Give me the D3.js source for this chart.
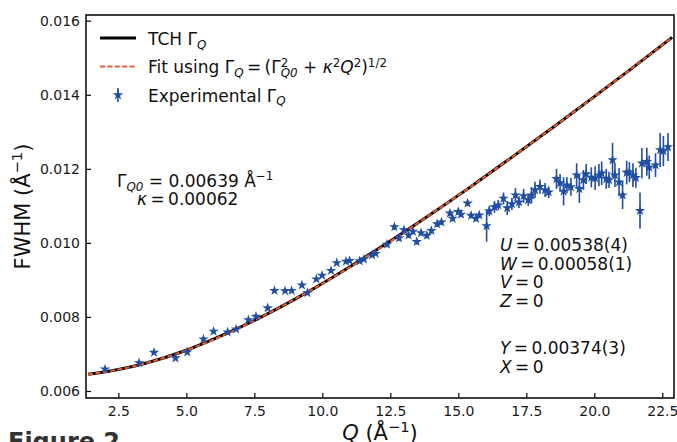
<!DOCTYPE html>
<html>
<head>
<meta charset="utf-8">
<script src="https://cdn.jsdelivr.net/npm/d3@7"></script>
<style>
  html, body { margin: 0; padding: 0; background: #fff; }
  svg { display: block; font-family: "DejaVu Sans", sans-serif; }
</style>
</head>
<body>
<svg id="chart" width="677" height="442"></svg>
<script>
// Model curves (TCH and fit), sampled along Q
const curveQ = [1.39, 2.5, 3.5, 5, 6.5, 8, 9.5, 11, 12.5, 14, 15.5, 17, 18.5, 20, 21.5, 22.86];
const tchFWHM = [0.00645, 0.00658, 0.00675, 0.00710, 0.00756, 0.00809, 0.00869, 0.00935, 0.01005, 0.01078, 0.01154, 0.01233, 0.01313, 0.01395, 0.01478, 0.01555];
const fitFWHM = [0.00645, 0.00658, 0.00675, 0.00710, 0.00755, 0.00809, 0.00869, 0.00934, 0.01004, 0.01078, 0.01154, 0.01233, 0.01313, 0.01395, 0.01478, 0.01555];

// Experimental peak widths with uncertainties
const expQ = [2.01,3.26,3.81,4.60,5.03,5.63,6.00,6.52,6.83,7.28,
  7.56,7.99,8.24,8.63,8.87,9.25,9.45,9.78,9.99,10.32,
  10.53,10.87,11.00,11.37,11.53,11.83,11.96,12.38,12.65,12.82,
  13.00,13.17,13.33,13.47,13.63,13.84,14.01,14.22,14.38,14.69,
  14.79,15.00,15.10,15.34,15.47,15.65,15.77,16.04,16.14,16.33,
  16.47,16.66,16.80,16.97,17.10,17.23,17.40,17.57,17.69,17.82,
  18.00,18.19,18.32,18.61,18.74,18.87,18.99,19.14,19.35,19.45,
  19.60,19.70,19.89,20.03,20.17,20.27,20.44,20.54,20.67,20.76,
  20.91,21.04,21.19,21.29,21.42,21.53,21.68,21.75,21.93,22.02,
  22.25,22.42,22.54,22.71];
const expFWHM = [0.00659,0.00676,0.00704,0.00689,0.00705,0.00740,0.00761,0.00759,0.00767,0.00792,
  0.00801,0.00824,0.00871,0.00870,0.00871,0.00886,0.00865,0.00902,0.00912,0.00925,
  0.00946,0.00950,0.00952,0.00951,0.00956,0.00967,0.00971,0.00996,0.01043,0.01013,
  0.01035,0.01021,0.01031,0.01003,0.01027,0.01020,0.01033,0.01051,0.01056,0.01080,
  0.01066,0.01084,0.01077,0.01107,0.01074,0.01066,0.01075,0.01046,0.01086,0.01097,
  0.01102,0.01120,0.01094,0.01105,0.01129,0.01110,0.01127,0.01116,0.01129,0.01143,
  0.01152,0.01143,0.01137,0.01173,0.01162,0.01139,0.01156,0.01151,0.01183,0.01146,
  0.01170,0.01186,0.01177,0.01175,0.01183,0.01188,0.01173,0.01170,0.01224,0.01183,
  0.01164,0.01129,0.01190,0.01191,0.01183,0.01176,0.01087,0.01215,0.01219,0.01204,
  0.01210,0.01251,0.01248,0.01259];
const expErr = [0.00003,0.00003,0.00003,0.00003,0.00003,0.00003,0.00003,0.00003,0.00003,0.00003,
  0.00003,0.00003,0.00003,0.00003,0.00003,0.00003,0.00003,0.00003,0.00003,0.00003,
  0.00003,0.00003,0.00003,0.00003,0.00003,0.00003,0.00003,0.00008,0.00008,0.00008,
  0.00008,0.00008,0.00008,0.00008,0.00008,0.00008,0.00008,0.00008,0.00008,0.00008,
  0.00008,0.00008,0.00008,0.00008,0.00008,0.00008,0.00008,0.00043,0.00014,0.00016,
  0.00014,0.00016,0.00019,0.00016,0.00019,0.00016,0.00019,0.00016,0.00022,0.00022,
  0.00019,0.00019,0.00016,0.00027,0.00024,0.00038,0.00022,0.00024,0.00032,0.00038,
  0.00027,0.00027,0.00027,0.00032,0.00030,0.00032,0.00027,0.00022,0.00046,0.00032,
  0.00038,0.00038,0.00032,0.00027,0.00032,0.00027,0.00049,0.00041,0.00038,0.00032,
  0.00032,0.00046,0.00041,0.00038];

const xTicks = [2.5, 5.0, 7.5, 10.0, 12.5, 15.0, 17.5, 20.0, 22.5];
const yTicks = [0.006, 0.008, 0.010, 0.012, 0.014, 0.016];

const BLUE = "#1f4ea3";
const RED = "#ee5a2c";

const svg = d3.select("#chart");
const plotL = 86, plotR = 674, plotT = 15, plotB = 398;

const x = d3.scaleLinear().domain([1.31, 22.93]).range([plotL, plotR]);
const y = d3.scaleLinear().domain([0.005811, 0.016154]).range([plotB, plotT]);

svg.append("defs").append("clipPath").attr("id", "plot")
  .append("rect").attr("x", plotL).attr("y", plotT)
  .attr("width", plotR - plotL).attr("height", plotB - plotT);

// Axes with inward ticks
const gx = svg.append("g").attr("transform", `translate(0,${plotB})`)
  .call(d3.axisBottom(x).tickValues(xTicks).tickFormat(d3.format(".1f"))
    .tickSizeInner(-5).tickSizeOuter(0).tickPadding(8));
const gy = svg.append("g").attr("transform", `translate(${plotL},0)`)
  .call(d3.axisLeft(y).tickValues(yTicks).tickFormat(d3.format(".3f"))
    .tickSizeInner(-5).tickSizeOuter(0).tickPadding(6));
[gx, gy].forEach(g => {
  g.select(".domain").remove();
  g.selectAll(".tick line").attr("stroke", "#000").attr("stroke-width", 1.2);
  g.selectAll(".tick text").attr("fill", "#1a1a1a")
    .style("font-family", "DejaVu Sans").style("font-size", "14px");
});

const plot = svg.append("g").attr("clip-path", "url(#plot)");

const line = (ys) => d3.line()
  .x((d, i) => x(curveQ[i]))
  .y((d, i) => y(ys[i]))
  .curve(d3.curveMonotoneX)(curveQ);

plot.append("path").attr("d", line(tchFWHM))
  .attr("fill", "none").attr("stroke", "#000").attr("stroke-width", 3);
plot.append("path").attr("d", line(fitFWHM))
  .attr("fill", "none").attr("stroke", RED).attr("stroke-width", 2)
  .attr("stroke-dasharray", "5,2.4");

const pts = expQ.map((q, i) => ({ q, v: expFWHM[i], e: expErr[i] }));
plot.append("g").selectAll("line").data(pts).join("line")
  .attr("x1", d => x(d.q)).attr("x2", d => x(d.q))
  .attr("y1", d => y(d.v - d.e)).attr("y2", d => y(d.v + d.e))
  .attr("stroke", BLUE).attr("stroke-width", 1.6);
const star = d3.symbol().type(d3.symbolStar).size(34);
plot.append("g").selectAll("path").data(pts).join("path")
  .attr("d", star)
  .attr("transform", d => `translate(${x(d.q)},${y(d.v)})`)
  .attr("fill", BLUE);

// Frame
svg.append("rect").attr("x", plotL).attr("y", plotT)
  .attr("width", plotR - plotL).attr("height", plotB - plotT)
  .attr("fill", "none").attr("stroke", "#111").attr("stroke-width", 1.6);

// Text with math-style sub/superscripts
function mathText(parent, px, py, size, parts, anchor) {
  const t = parent.append("text").attr("x", px).attr("y", py)
    .style("font-size", size + "px").attr("fill", "#111")
    .attr("text-anchor", anchor || "start");
  let cur = 0, lastW = 0;
  parts.forEach(p => {
    const off = p.sub ? size * 0.22 : p.sup ? -size * 0.40 : 0;
    const ts = t.append("tspan").text(p.t);
    if (off - cur !== 0) ts.attr("dy", off - cur);
    cur = off;
    if (p.i) ts.style("font-style", "italic");
    if (p.sub || p.sup) ts.style("font-size", (size * 0.7) + "px");
    if (p.back) ts.attr("dx", -lastW);
    lastW = ts.node().getComputedTextLength();
  });
  return t;
}

// Legend
const lg = svg.append("g");
lg.append("line").attr("x1", 100).attr("x2", 136).attr("y1", 38).attr("y2", 38)
  .attr("stroke", "#000").attr("stroke-width", 3);
lg.append("line").attr("x1", 100).attr("x2", 136).attr("y1", 66.5).attr("y2", 66.5)
  .attr("stroke", RED).attr("stroke-width", 2).attr("stroke-dasharray", "5,2.4");
lg.append("line").attr("x1", 118).attr("x2", 118).attr("y1", 88).attr("y2", 102)
  .attr("stroke", BLUE).attr("stroke-width", 1.6);
lg.append("path").attr("d", star).attr("transform", "translate(118,95)").attr("fill", BLUE);

mathText(lg, 148, 45, 17, [{t: "TCH Γ"}, {t: "Q", i: 1, sub: 1}]);
mathText(lg, 148, 73.3, 17, [
  {t: "Fit using Γ"}, {t: "Q", i: 1, sub: 1}, {t: "\u2009=\u2009(Γ"},
  {t: "2", sup: 1}, {t: "Q0", i: 1, sub: 1, back: 1}, {t: " + "},
  {t: "κ", i: 1}, {t: "2", sup: 1}, {t: "Q", i: 1}, {t: "2", sup: 1},
  {t: ")"}, {t: "1/2", sup: 1}]);
mathText(lg, 148, 101.7, 17, [{t: "Experimental Γ"}, {t: "Q", i: 1, sub: 1}]);

// Fit parameters
mathText(svg, 117, 187, 17, [{t: "Γ"}, {t: "Q0", i: 1, sub: 1}, {t: " = 0.00639 Å"}, {t: "\u22121", sup: 1}]);
mathText(svg, 137, 205, 17, [{t: "κ", i: 1}, {t: "\u2009=\u20090.00062"}]);

// TCH parameters
const tch = [["U", "0.00538(4)", 251], ["W", "0.00058(1)", 269.5], ["V", "0", 288],
             ["Z", "0", 307], ["Y", "0.00374(3)", 354], ["X", "0", 372.7]];
tch.forEach(([k, v, yy]) => mathText(svg, 500, yy, 17, [{t: k, i: 1}, {t: "\u2009=\u2009" + v}]));

// Axis titles
mathText(svg, (plotL + plotR) / 2, 440, 21, [{t: "Q", i: 1}, {t: " (Å"}, {t: "\u22121", sup: 1}, {t: ")"}], "middle");
const yl = svg.append("g").attr("transform", `translate(30,${(plotT + plotB) / 2}) rotate(-90)`);
mathText(yl, 0, 0, 21, [{t: "FWHM (Å"}, {t: "\u22121", sup: 1}, {t: ")"}], "middle");

// Caption
svg.append("text").attr("x", 8).attr("y", 450).text("Figure 2")
  .style("font-size", "24px").style("font-weight", "bold").attr("fill", "#333");
</script>
</body>
</html>
